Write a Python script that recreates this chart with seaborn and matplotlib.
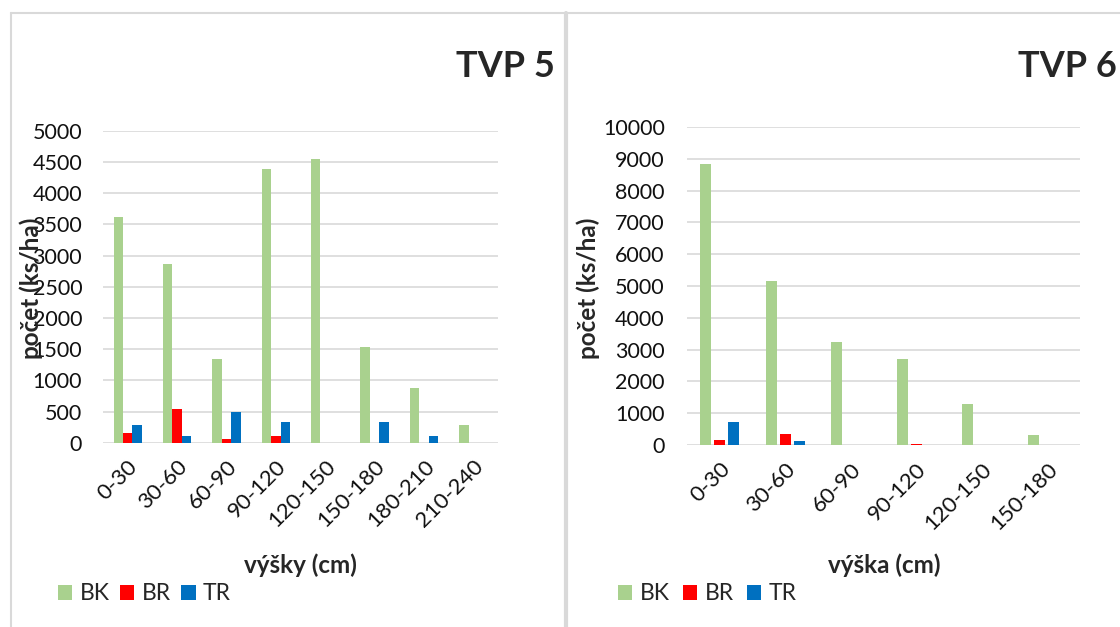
import pandas as pd
import matplotlib
matplotlib.use("Agg")
import matplotlib.pyplot as plt
import seaborn as sns
from matplotlib.lines import Line2D

# TVP 5 data (ks/ha per height class)
tvp5_classes = ['0-30', '30-60', '60-90', '90-120', '120-150', '150-180', '180-210', '210-240']
tvp5_bk = [3610, 2870, 1340, 4390, 4540, 1540, 880, 285]
tvp5_br = [160, 540, 55, 110, 0, 0, 0, 0]
tvp5_tr = [285, 110, 490, 335, 0, 335, 110, 0]

# TVP 6 data
tvp6_classes = ['0-30', '30-60', '60-90', '90-120', '120-150', '150-180']
tvp6_bk = [8850, 5160, 3250, 2690, 1280, 320]
tvp6_br = [170, 340, 0, 30, 0, 0]
tvp6_tr = [730, 120, 0, 0, 0, 0]

species = ['BK', 'BR', 'TR']
colors = {'BK': '#A9D18E', 'BR': '#FF0000', 'TR': '#0070C0'}

sns.set_theme(style='white')
plt.rcParams['font.family'] = ['Lato', 'DejaVu Sans']

W, H = 1120, 627


def to_long(classes, bk, br, tr):
    df = pd.DataFrame({'výška': classes, 'BK': bk, 'BR': br, 'TR': tr})
    return df.melt(id_vars='výška', var_name='druh', value_name='počet')


def draw_panel(ax, df, ymax, ystep, width, gap, title, title_x, xlabel,
               ylabel_x, xlabel_x, legend_x, colspace, ypad):
    sns.barplot(data=df, x='výška', y='počet', hue='druh', hue_order=species,
                palette=colors, saturation=1, width=width, gap=gap,
                linewidth=0, ax=ax)
    ax.set_ylim(0, ymax)
    ax.set_yticks(range(0, ymax + 1, ystep))
    ax.yaxis.grid(True, color='#D9D9D9', linewidth=1.2)
    ax.xaxis.grid(False)
    ax.set_axisbelow(True)
    for s in ax.spines.values():
        s.set_visible(False)
    ax.tick_params(axis='y', length=0, pad=ypad, labelsize=15.5, labelcolor='#111111')
    ax.tick_params(axis='x', length=0, pad=10, labelsize=16, labelcolor='#111111')
    plt.setp(ax.get_xticklabels(), rotation=45, ha='right', rotation_mode='anchor')

    # ylabel anchor is the right edge of the rotated text, xlabel anchor is its top
    ax.set_ylabel('počet (ks/ha)', fontsize=17.5, fontweight='bold')
    ax.yaxis.set_label_coords(ylabel_x / W, 1 - 288 / H, transform=ax.figure.transFigure)
    ax.set_xlabel(xlabel, fontsize=17.5, fontweight='bold')
    ax.xaxis.set_label_coords(xlabel_x / W, 1 - 553 / H, transform=ax.figure.transFigure)

    ax.figure.text(title_x / W, 1 - 77 / H, title, ha='right', va='baseline',
                   fontsize=26, fontweight='bold')

    handles, labels = ax.get_legend_handles_labels()
    ax.legend(handles, labels, ncol=3, frameon=False, loc='center left',
              bbox_to_anchor=(legend_x / W, 1 - 594 / H),
              bbox_transform=ax.figure.transFigure, fontsize=16.5,
              handlelength=0.62, handleheight=0.62, handletextpad=0.33,
              columnspacing=colspace, borderpad=0, borderaxespad=0)


fig = plt.figure(figsize=(W / 100, H / 100), dpi=100)

ax1 = fig.add_axes([103 / W, 1 - 442.7 / H, (498 - 103) / W, (442.7 - 130.7) / H])
ax2 = fig.add_axes([687 / W, 1 - 445 / H, (1080 - 687) / W, (445 - 127) / H])

draw_panel(ax1, to_long(tvp5_classes, tvp5_bk, tvp5_br, tvp5_tr), 5000, 500,
           0.57, 0, 'TVP 5', 555, 'výšky (cm)', 43, 300, 58, 0.45, 15)
draw_panel(ax2, to_long(tvp6_classes, tvp6_bk, tvp6_br, tvp6_tr), 10000, 1000,
           0.63, 0.2, 'TVP 6', 1117, 'výška (cm)', 600, 884, 618, 0.58, 16)

# chart frames
frame = '#D9D9D9'
fig.add_artist(Line2D([11 / W, 1], [1 - 13 / H, 1 - 13 / H], color=frame, lw=1.5))
fig.add_artist(Line2D([11 / W, 11 / W], [0, 1 - 13 / H], color=frame, lw=1.5))
fig.add_artist(Line2D([566 / W, 566 / W], [0, 1 - 13 / H], color=frame, lw=3))

fig.savefig('out.png', dpi=100)
